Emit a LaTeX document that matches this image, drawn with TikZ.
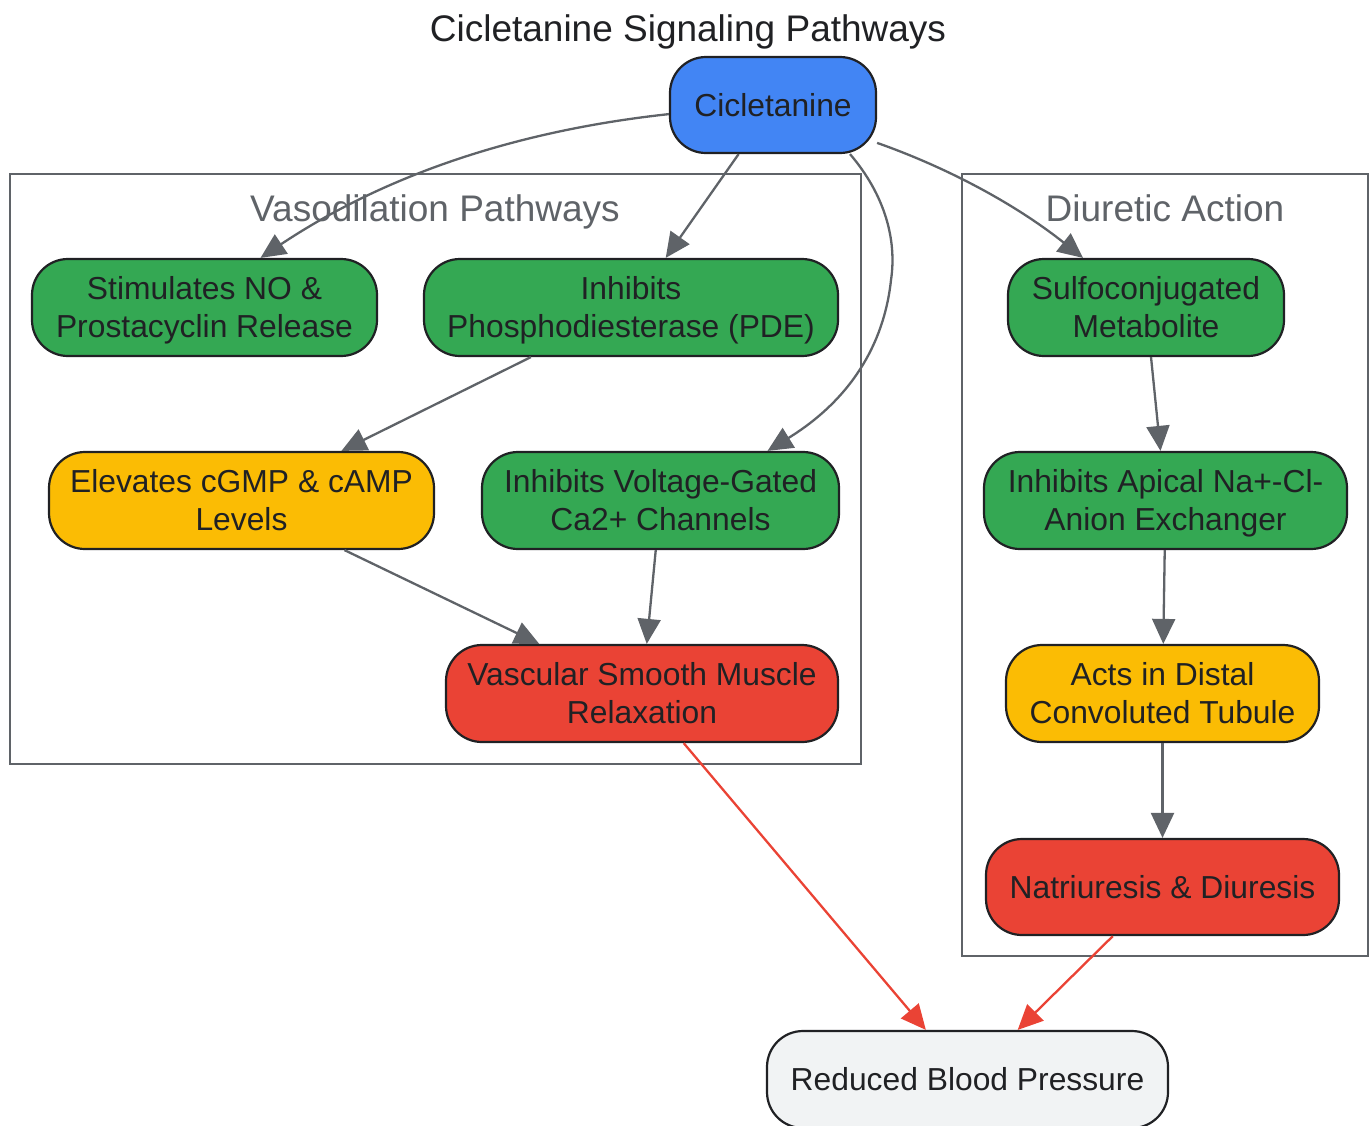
\documentclass[tikz,border=0pt]{standalone}
\usepackage{fontspec}
\setmainfont{Liberation Sans}
\usetikzlibrary{arrows.meta}
\definecolor{cblue}{HTML}{4285F4}
\definecolor{cgreen}{HTML}{34A853}
\definecolor{cyellow}{HTML}{FBBC04}
\definecolor{cred}{HTML}{EA4335}
\definecolor{cgrey}{HTML}{F1F3F4}
\definecolor{cedge}{HTML}{5F6368}
\definecolor{ctext}{HTML}{202124}
\newcommand\ls{\rule[-8pt]{0pt}{38pt}}
\tikzset{
  box/.style={draw=ctext, line width=2.2pt, rounded corners=36pt, text=ctext,
    align=center, inner sep=0pt, font=\fontsize{31.8}{38}\selectfont},
  cluster/.style={draw=cedge, line width=2pt},
  ctitle/.style={text=cedge, font=\fontsize{37}{44}\selectfont, inner sep=0pt,
    text height=30pt, text depth=4pt},
  edge/.style={draw=cedge, line width=2.3pt, -{Triangle[length=25pt,width=23pt]}},
  redge/.style={draw=cred, line width=2.3pt, -{Triangle[length=25pt,width=23pt]}}
}
\begin{document}
\begin{tikzpicture}[x=1pt,y=-1pt]
\useasboundingbox (0,0) rectangle (1370,1125);
% clusters
\draw[cluster] (10,174) rectangle (861,764);
\draw[cluster] (962,174) rectangle (1368,956);
\node[ctitle] (vtitle) at (435,208) {Vasodilation Pathways};
\node[ctitle] (dtitle) at (1165,208) {Diuretic Action};
\node[ctitle, text=ctext] (title) at (688,28) {Cicletanine Signaling Pathways};
% nodes
\node[box, fill=cblue, minimum width=206pt, minimum height=96pt] (cic) at (773,105) {\ls Cicletanine};
\node[box, fill=cgreen, minimum width=345pt, minimum height=97pt] (stim) at (204.5,307.5) {\ls Stimulates NO \&\\\ls Prostacyclin Release};
\node[box, fill=cgreen, minimum width=414pt, minimum height=97pt] (pde) at (631,307.5) {\ls Inhibits\\\ls Phosphodiesterase (PDE)};
\node[box, fill=cyellow, minimum width=385pt, minimum height=97pt] (cgmp) at (241.5,500.5) {\ls Elevates cGMP \& cAMP\\\ls Levels};
\node[box, fill=cgreen, minimum width=357pt, minimum height=97pt] (vgc) at (660.5,500.5) {\ls Inhibits Voltage-Gated\\\ls Ca2+ Channels};
\node[box, fill=cred, minimum width=392pt, minimum height=97pt] (vsm) at (642,693.5) {\ls Vascular Smooth Muscle\\\ls Relaxation};
\node[box, fill=cgreen, minimum width=276pt, minimum height=97pt] (sulfo) at (1146,307.5) {\ls Sulfoconjugated\\\ls Metabolite};
\node[box, fill=cgreen, minimum width=363pt, minimum height=97pt] (apical) at (1165.5,500.5) {\ls Inhibits Apical Na+-Cl-\\\ls Anion Exchanger};
\node[box, fill=cyellow, minimum width=313pt, minimum height=97pt] (dct) at (1162.5,693.5) {\ls Acts in Distal\\\ls Convoluted Tubule};
\node[box, fill=cred, minimum width=353pt, minimum height=96pt] (natri) at (1162.5,887) {\ls Natriuresis \& Diuresis};
\node[box, fill=cgrey, minimum width=401pt, minimum height=97pt] (rbp) at (967.5,1079.5) {\ls Reduced Blood Pressure};
% edges
\draw[edge] (cic.185) .. controls (540,128) and (400,165) .. ([xshift=56pt]stim.north);
\draw[edge] (cic) -- (pde);
\draw[edge] ([xshift=77pt]cic.south) .. controls (885,195) and (897,240) .. (891,280)
  .. controls (884,345) and (850,400) .. ([xshift=107pt]vgc.north);
\draw[edge] (cic.-20) .. controls (940,165) and (1010,200) .. ([xshift=-63pt]sulfo.north);
\draw[edge] (pde) -- (cgmp);
\draw[edge] (cgmp) -- (vsm);
\draw[edge] (vgc) -- (vsm);
\draw[edge] (sulfo) -- (apical);
\draw[edge] (apical) -- (dct);
\draw[edge] (dct) -- (natri);
\draw[redge] (vsm) -- (rbp);
\draw[redge] (natri) -- (rbp);
\end{tikzpicture}
\end{document}
